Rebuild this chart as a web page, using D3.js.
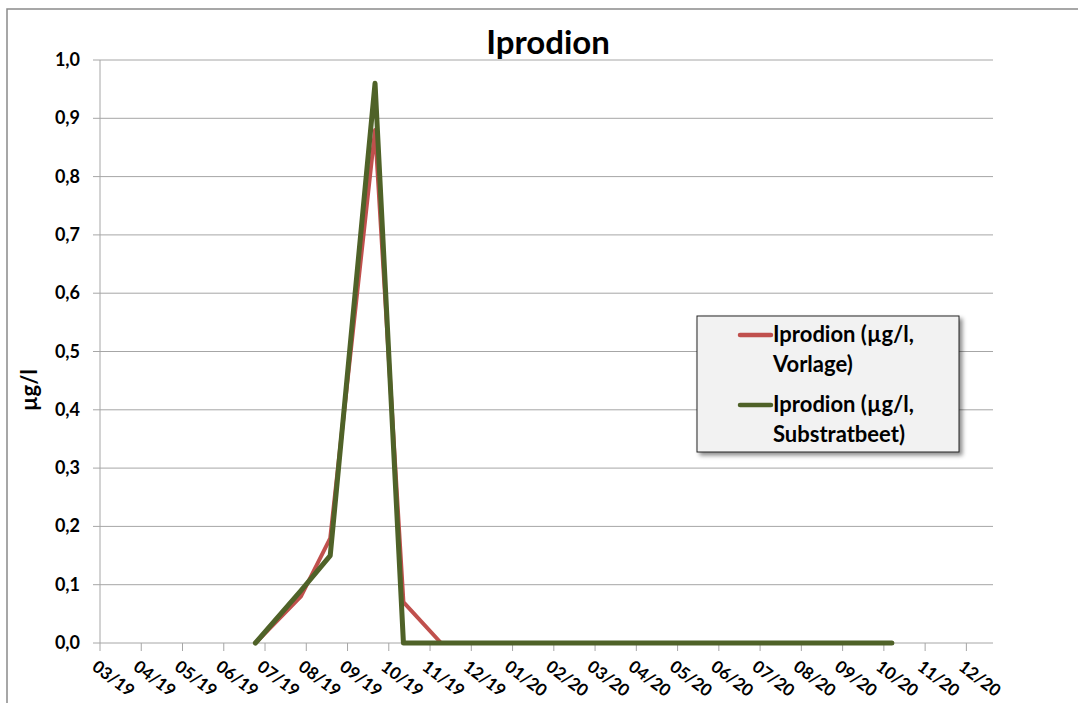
<!DOCTYPE html>
<html>
  <head>
    <meta charset="utf-8">
    <title>Iprodion</title>
    <script src="https://d3js.org/d3.v7.min.js"></script>
    <style>
      body { margin: 0; background: #fff; }
      svg { display: block; font-family: Lato, "Open Sans", sans-serif; font-weight: bold; }
      .grid line { stroke: #a6a6a6; stroke-width: 1; }
      .series { fill: none; stroke-linejoin: round; stroke-linecap: round; }
    </style>
  </head>
  <body>
    <div id="vis"></div>
    <script>
        // chart data
        const sampleDates = ["2019-06-24", "2019-07-28", "2019-08-19", "2019-09-21", "2019-10-12", "2019-11-09", "2020-10-07"];
        const vorlage = [0, 0.08, 0.18, 0.88, 0.07, 0, 0];
        const substratbeet = [0, 0.09, 0.15, 0.96, 0, 0, 0];
        const seriesNames = ["Iprodion (µg/l, Vorlage)", "Iprodion (µg/l, Substratbeet)"];
        const monthLabels = ["03/19", "04/19", "05/19", "06/19", "07/19", "08/19", "09/19", "10/19", "11/19", "12/19",
                             "01/20", "02/20", "03/20", "04/20", "05/20", "06/20", "07/20", "08/20", "09/20", "10/20", "11/20", "12/20"];
        const yTicks = [0, 0.1, 0.2, 0.3, 0.4, 0.5, 0.6, 0.7, 0.8, 0.9, 1.0];
        const axisStart = "2019-03-01";
        const axisEnd = "2020-12-21";

        const width = 1078;
        const height = 703;
        const plot = {left: 100, right: 993, top: 60, bottom: 643};

        // months since the start of the axis, with the day as a fraction
        const start = new Date(axisStart);
        function monthIndex(s) {
          const d = new Date(s);
          const m = (d.getFullYear() - start.getFullYear()) * 12 + d.getMonth() - start.getMonth();
          const days = new Date(d.getFullYear(), d.getMonth() + 1, 0).getDate();
          return m + (d.getDate() - 1) / days;
        }

        const x = d3.scaleLinear().domain([0, monthIndex(axisEnd)]).range([plot.left, plot.right]);
        const y = d3.scaleLinear().domain([0, 1]).range([plot.bottom, plot.top]);

        const vis = d3.select('#vis')
                      .append('svg')
                      .attr('width', width)
                      .attr('height', height);

        const defs = vis.append("defs");
        const shadow = defs.append("filter").attr("id", "shadow")
                           .attr("x", "-10%").attr("y", "-10%").attr("width", "130%").attr("height", "130%");
        shadow.append("feDropShadow").attr("dx", 3).attr("dy", 3).attr("stdDeviation", 2)
              .attr("flood-color", "#000").attr("flood-opacity", 0.45);

        // outer chart border (cut off on the right and bottom)
        vis.append("rect")
           .attr("x", 7).attr("y", 9)
           .attr("width", width + 20).attr("height", height + 20)
           .attr("fill", "none").attr("stroke", "#8a8a8a").attr("stroke-width", 1.5);

        // title
        vis.append("text")
           .attr("x", 548).attr("y", 54)
           .attr("text-anchor", "middle")
           .attr("font-size", 33)
           .text("Iprodion");

        // horizontal gridlines + y ticks
        const grid = vis.append("g").attr("class", "grid");
        grid.selectAll("line.h")
            .data(yTicks)
            .enter()
            .append("line")
            .attr("class", "h")
            .attr("x1", plot.left - 7).attr("x2", plot.right)
            .attr("y1", d => y(d)).attr("y2", d => y(d));

        vis.append("g")
           .selectAll("text")
           .data(yTicks)
           .enter()
           .append("text")
           .attr("x", 80).attr("y", d => y(d) + 6)
           .attr("text-anchor", "end")
           .attr("font-size", 18)
           .text(d => d3.format(".1f")(d).replace(".", ","));

        // y axis line
        grid.append("line")
            .attr("x1", plot.left).attr("x2", plot.left)
            .attr("y1", plot.top).attr("y2", plot.bottom);

        // x ticks + labels
        const months = monthLabels.map((m, i) => i);
        grid.selectAll("line.v")
            .data(months)
            .enter()
            .append("line")
            .attr("class", "v")
            .attr("x1", d => x(d)).attr("x2", d => x(d))
            .attr("y1", plot.bottom).attr("y2", plot.bottom + 8);

        vis.append("g")
           .selectAll("text")
           .data(monthLabels)
           .enter()
           .append("text")
           .attr("transform", (d, i) => `translate(${x(i) - 9},${plot.bottom + 26}) rotate(37)`)
           .attr("font-size", 17)
           .text(d => d);

        // y axis title
        vis.append("text")
           .attr("transform", `translate(37,390) rotate(-90)`)
           .attr("text-anchor", "middle")
           .attr("font-size", 22)
           .text("µg/l");

        // series lines
        const pts = values => values.map((v, i) => [monthIndex(sampleDates[i]), v]);
        const line = d3.line().x(d => x(d[0])).y(d => y(d[1]));

        vis.append("path")
           .attr("class", "series")
           .attr("d", line(pts(vorlage)))
           .attr("stroke", "#c0504d")
           .attr("stroke-width", 4);

        vis.append("path")
           .attr("class", "series")
           .attr("d", line(pts(substratbeet)))
           .attr("stroke", "#4f6228")
           .attr("stroke-width", 5);

        // legend
        const legend = vis.append("g").attr("transform", "translate(697,316)");
        legend.append("rect")
              .attr("width", 262).attr("height", 136)
              .attr("fill", "#f2f2f2").attr("stroke", "#262626").attr("stroke-width", 1)
              .attr("filter", "url(#shadow)");

        const legendColors = ["#c0504d", "#4f6228"];
        const item = legend.selectAll("g.item")
                           .data(seriesNames)
                           .enter()
                           .append("g")
                           .attr("class", "item")
                           .attr("transform", (d, i) => `translate(0,${i * 70})`);

        item.append("line")
            .attr("x1", 43).attr("x2", 74)
            .attr("y1", 19).attr("y2", 19)
            .attr("stroke", (d, i) => legendColors[i])
            .attr("stroke-width", 4.5)
            .attr("stroke-linecap", "round");

        item.append("text")
            .attr("x", 76).attr("y", 26)
            .attr("font-size", 22)
            .text(d => d.split(" ").slice(0, 2).join(" "));

        item.append("text")
            .attr("x", 76).attr("y", 56)
            .attr("font-size", 22)
            .text(d => d.split(" ").slice(2).join(" "));
    </script>
  </body>
</html>
